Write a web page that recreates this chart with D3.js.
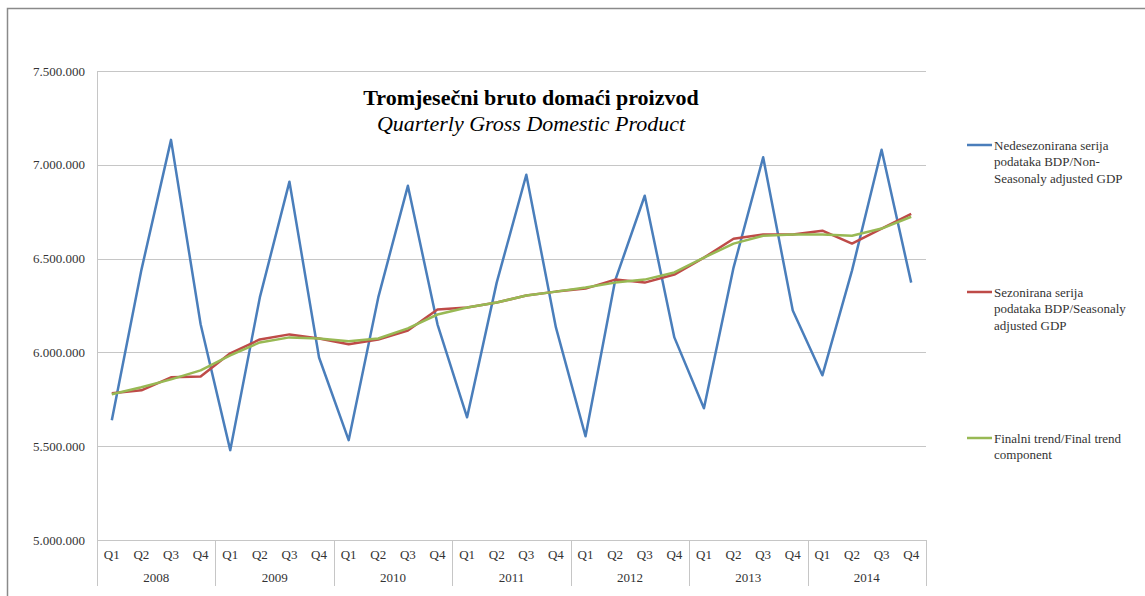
<!DOCTYPE html>
<html>
<head>
<meta charset="utf-8">
<script src="https://cdnjs.cloudflare.com/ajax/libs/d3/7.8.5/d3.min.js"></script>
<style>
  body { margin: 0; background: #fff; }
  text { font-family: "Liberation Serif", "Times New Roman", serif; }
  .grid line { stroke: #c6c6c6; stroke-width: 1; }
  .series { fill: none; stroke-width: 2.5; stroke-linejoin: round; }
</style>
</head>
<body>
<svg width="1145" height="596"></svg>
<script>
var years = ['2008', '2009', '2010', '2011', '2012', '2013', '2014'];
var quarters = ['Q1', 'Q2', 'Q3', 'Q4'];
var yTicks = [5000000, 5500000, 6000000, 6500000, 7000000, 7500000];

// Nedesezonirana serija / non-seasonally adjusted
var nonSa = [5638000, 6440000, 7133000, 6150000,
             5479000, 6293000, 6910000, 5973000,
             5532000, 6293000, 6888000, 6150000,
             5654000, 6372000, 6947000, 6133000,
             5553000, 6383000, 6835000, 6080000,
             5702000, 6452000, 7040000, 6223000,
             5878000, 6436000, 7080000, 6372000];
// Sezonirana serija / seasonally adjusted
var sa = [5782000, 5798000, 5867000, 5872000,
          5995000, 6069000, 6096000, 6074000,
          6043000, 6069000, 6117000, 6229000,
          6239000, 6266000, 6303000, 6324000,
          6340000, 6388000, 6372000, 6415000,
          6505000, 6606000, 6628000, 6628000,
          6649000, 6580000, 6660000, 6739000];
// Finalni trend
var trend = [5777000, 5814000, 5856000, 5904000,
             5984000, 6053000, 6080000, 6074000,
             6059000, 6074000, 6128000, 6202000,
             6239000, 6266000, 6303000, 6324000,
             6346000, 6372000, 6388000, 6426000,
             6505000, 6580000, 6622000, 6628000,
             6628000, 6622000, 6660000, 6723000];

var seriesNames = [
  ['Nedesezonirana serija', 'podataka BDP/Non-', 'Seasonaly adjusted GDP'],
  ['Sezonirana serija', 'podataka BDP/Seasonaly', 'adjusted GDP'],
  ['Finalni trend/Final trend', 'component']
];
var seriesColors = ['#4a7ebb', '#be4b48', '#98b954'];

var svg = d3.select('svg'),
    plotLeft = 97, plotRight = 926, plotTop = 71, plotBottom = 540;

// outer frame
svg.append('path')
    .attr('d', 'M7.5,596 L7.5,8.5 L1145,8.5')
    .attr('fill', 'none')
    .attr('stroke', '#8a8a8a')
    .attr('stroke-width', 1.5);

var keys = [];
years.forEach(function(yr) {
    quarters.forEach(function(q) { keys.push(yr + q); });
});

var x = d3.scaleBand().domain(keys).range([plotLeft, plotRight]);
var xYear = d3.scaleBand().domain(years).range([plotLeft, plotRight]);
var y = d3.scaleLinear().domain([5000000, 7500000]).range([plotBottom, plotTop]);

var fmt = function(v) { return d3.format(',')(v).replace(/,/g, '.'); };

// gridlines
svg.append('g').attr('class', 'grid')
    .selectAll('line').data(yTicks).enter().append('line')
    .attr('x1', plotLeft).attr('x2', plotRight)
    .attr('y1', function(d) { return Math.round(y(d)) + 0.5; })
    .attr('y2', function(d) { return Math.round(y(d)) + 0.5; });

// left axis line
svg.append('line')
    .attr('x1', plotLeft + 0.5).attr('x2', plotLeft + 0.5)
    .attr('y1', plotTop).attr('y2', plotBottom)
    .attr('stroke', '#c6c6c6');

// y labels
svg.append('g').selectAll('text').data(yTicks).enter().append('text')
    .attr('x', 85)
    .attr('y', function(d) { return y(d); })
    .attr('dy', '0.35em')
    .attr('text-anchor', 'end')
    .attr('font-size', 13)
    .attr('fill', '#333')
    .text(fmt);

// x axis: year separators
var seps = years.map(function(yr) { return xYear(yr); }).concat([plotRight]);
svg.append('g').selectAll('line').data(seps).enter().append('line')
    .attr('x1', function(d) { return Math.round(d) + 0.5; })
    .attr('x2', function(d) { return Math.round(d) + 0.5; })
    .attr('y1', plotBottom).attr('y2', 586)
    .attr('stroke', '#c6c6c6');

svg.append('g').selectAll('text').data(keys).enter().append('text')
    .attr('x', function(d) { return x(d) + x.bandwidth() / 2; })
    .attr('y', 559)
    .attr('text-anchor', 'middle')
    .attr('font-size', 13)
    .attr('fill', '#333')
    .text(function(d) { return d.slice(4); });

svg.append('g').selectAll('text').data(years).enter().append('text')
    .attr('x', function(d) { return xYear(d) + xYear.bandwidth() / 2; })
    .attr('y', 582)
    .attr('text-anchor', 'middle')
    .attr('font-size', 13)
    .attr('fill', '#333')
    .text(function(d) { return d; });

// lines
var line = d3.line()
    .x(function(d, i) { return x(keys[i]) + x.bandwidth() / 2; })
    .y(function(d) { return y(d); });

[nonSa, sa, trend].forEach(function(s, i) {
    svg.append('path')
        .datum(s)
        .attr('class', 'series')
        .attr('stroke', seriesColors[i])
        .attr('d', line);
});

// title
svg.append('text')
    .attr('x', 531).attr('y', 105)
    .attr('text-anchor', 'middle')
    .attr('font-size', 22)
    .attr('font-weight', 'bold')
    .text('Tromjesečni bruto domaći proizvod');
svg.append('text')
    .attr('x', 531).attr('y', 131)
    .attr('text-anchor', 'middle')
    .attr('font-size', 22)
    .attr('font-style', 'italic')
    .text('Quarterly Gross Domestic Product');

// legend
var legendY = [145, 292, 438];
var lg = svg.append('g').selectAll('g').data(seriesNames).enter().append('g')
    .attr('transform', function(d, i) { return 'translate(0,' + legendY[i] + ')'; });
lg.append('line')
    .attr('x1', 967).attr('x2', 992)
    .attr('stroke', function(d, i) { return seriesColors[i]; })
    .attr('stroke-width', 2.5);
lg.append('text')
    .attr('font-size', 13)
    .attr('fill', '#333')
    .selectAll('tspan').data(function(d) { return d; }).enter().append('tspan')
    .attr('x', 994)
    .attr('y', function(d, i) { return i * 16.5; })
    .attr('dy', '0.35em')
    .text(function(d) { return d; });
</script>
</body>
</html>
